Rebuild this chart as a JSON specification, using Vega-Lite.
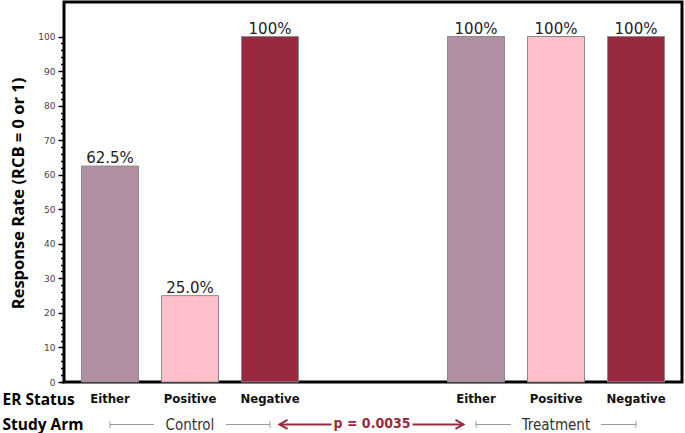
{
  "$schema": "https://vega.github.io/schema/vega-lite/v6.json",
  "autosize": {"type": "none"},
  "width": 618,
  "height": 380,
  "padding": {"left": 64, "top": 2, "right": 3, "bottom": 51},
  "background": "white",
  "config": {
    "view": {"stroke": "black", "strokeWidth": 3},
    "axis": {"grid": false}
  },
  "data": {
    "values": [
      {"arm": "Control", "er": "Either", "rate": 62.5, "label": "62.5%"},
      {"arm": "Control", "er": "Positive", "rate": 25.0, "label": "25.0%"},
      {"arm": "Control", "er": "Negative", "rate": 100, "label": "100%"},
      {"arm": "Treatment", "er": "Either", "rate": 100, "label": "100%"},
      {"arm": "Treatment", "er": "Positive", "rate": 100, "label": "100%"},
      {"arm": "Treatment", "er": "Negative", "rate": 100, "label": "100%"}
    ]
  },
  "resolve": {"axis": {"x": "independent", "y": "independent"}},
  "layer": [
    {
      "mark": {"type": "bar", "stroke": "#8a8a8a", "strokeWidth": 1},
      "encoding": {
        "x": {
          "field": "arm", "type": "nominal",
          "scale": {"domain": ["Control", "Treatment"], "paddingInner": 0.4071, "paddingOuter": 0.0478},
          "axis": {
            "orient": "bottom", "title": "Study Arm", "titleX": -62, "titleY": 42, "titleAlign": "left",
            "titleBaseline": "middle", "titleAngle": 0, "titleFont": "Open Sans", "titleFontWeight": "bold", "titleFontSize": 15.5, "titleColor": "black",
            "labelFont": "DejaVu Sans Condensed", "labelFontSize": 15, "labelColor": "#333", "labelAngle": 0,
            "labelBaseline": "middle", "labelPadding": 42, "ticks": false, "tickSize": 0, "domain": false
          }
        },
        "xOffset": {
          "field": "er", "type": "nominal",
          "scale": {"domain": ["Either", "Positive", "Negative"], "paddingInner": 0.2875, "paddingOuter": 0}
        },
        "y": {
          "field": "rate", "type": "quantitative",
          "scale": {"domain": [0, 110], "nice": false},
          "axis": {
            "orient": "left",
            "title": "Response Rate (RCB = 0 or 1)", "titleX": -46, "titleY": 191, "titleAngle": -90,
            "titleBaseline": "middle", "titleAlign": "center", "titleFont": "Open Sans", "titleFontWeight": "bold",
            "titleFontSize": 16.5, "titleColor": "black",
            "values": [0, 10, 20, 30, 40, 50, 60, 70, 80, 90, 100],
            "labelOverlap": false, "zindex": 2,
            "ticks": true, "tickSize": 6, "tickColor": "#000000", "tickWidth": 1.5, "tickOpacity": 1, "tickCap": "butt", "domain": false,
            "labelFont": "DejaVu Sans", "labelFontSize": 9, "labelColor": "#444", "labelPadding": 3
          }
        },
        "color": {
          "field": "er", "type": "nominal",
          "scale": {"domain": ["Either", "Positive", "Negative"], "range": ["#b08fa2", "#ffc0cb", "#99293e"]},
          "legend": null
        }
      }
    },
    {
      "mark": {"type": "text", "font": "DejaVu Sans", "fontSize": 15, "baseline": "alphabetic", "dy": -3, "color": "#222"},
      "encoding": {
        "x": {"field": "arm", "type": "nominal", "axis": null},
        "xOffset": {"field": "er", "type": "nominal"},
        "y": {
          "field": "rate", "type": "quantitative",
          "axis": {
            "orient": "left", "title": null, "labels": false, "domain": false, "zindex": 2,
            "values": [0,2,4,6,8,12,14,16,18,22,24,26,28,32,34,36,38,42,44,46,48,52,54,56,58,62,64,66,68,72,74,76,78,82,84,86,88,92,94,96,98],
            "ticks": true, "tickSize": 3.5, "tickColor": "#000000", "tickWidth": 1.5, "tickOpacity": 1
          }
        },
        "text": {"field": "label"}
      }
    },
    {
      "mark": {"type": "text", "font": "DejaVu Sans Condensed", "fontWeight": "bold", "fontSize": 13, "baseline": "middle", "color": "#111"},
      "encoding": {
        "x": {
          "field": "arm", "type": "nominal",
          "axis": {
            "orient": "bottom", "title": "ER Status", "titleX": -62, "titleY": 17, "titleAlign": "left",
            "titleBaseline": "middle", "titleAngle": 0, "titleFont": "Open Sans", "titleFontWeight": "bold", "titleFontSize": 15.5, "titleColor": "black",
            "labels": false, "ticks": false, "domain": false
          }
        },
        "xOffset": {"field": "er", "type": "nominal"},
        "y": {"datum": -4.9, "axis": null},
        "text": {"field": "er"}
      }
    },
    {
      "data": {"values": [
        {"arm": "Control", "er": "Either"}, {"arm": "Control", "er": "Negative"},
        {"arm": "Treatment", "er": "Either"}, {"arm": "Treatment", "er": "Negative"}
      ]},
      "mark": {"type": "line", "color": "#9a9a9a", "strokeWidth": 1},
      "encoding": {
        "x": {"field": "arm", "type": "nominal", "axis": null},
        "xOffset": {"field": "er", "type": "nominal"},
        "y": {"datum": -12.3, "axis": null},
        "detail": {"field": "arm"},
        "order": {"value": null},
        "strokeDash": {
          "field": "arm", "type": "nominal",
          "scale": {"domain": ["Control", "Treatment"], "range": [[44, 72, 44, 50], [35, 90, 35, 50]]},
          "legend": null
        }
      }
    },
    {
      "data": {"values": [
        {"arm": "Control", "er": "Either"}, {"arm": "Control", "er": "Negative"},
        {"arm": "Treatment", "er": "Either"}, {"arm": "Treatment", "er": "Negative"}
      ]},
      "mark": {"type": "rule", "color": "#9a9a9a", "strokeWidth": 1},
      "encoding": {
        "x": {"field": "arm", "type": "nominal", "axis": null},
        "xOffset": {"field": "er", "type": "nominal"},
        "y": {"datum": -11.3, "axis": null},
        "y2": {"datum": -13.3}
      }
    },
    {
      "data": {"values": [
        {"arm": "Control", "er": "Negative"}, {"arm": "Treatment", "er": "Either"}
      ]},
      "mark": {"type": "line", "color": "#9b2a3f", "strokeWidth": 2, "strokeDash": [0, 9.5, 52, 81, 51, 30]},
      "encoding": {
        "x": {"field": "arm", "type": "nominal", "axis": null},
        "xOffset": {"field": "er", "type": "nominal"},
        "y": {"datum": -12.3, "axis": null},
        "order": {"value": null}
      }
    },
    {
      "data": {"values": [
        {"arm": "Control", "er": "Negative"}, {"arm": "Treatment", "er": "Either"}
      ]},
      "mark": {"type": "point", "filled": false, "color": "#9b2a3f", "strokeWidth": 2, "size": 4, "opacity": 1},
      "encoding": {
        "x": {"field": "arm", "type": "nominal", "axis": null},
        "xOffset": {"field": "er", "type": "nominal"},
        "y": {"datum": -12.3, "axis": null},
        "shape": {
          "field": "arm", "type": "nominal",
          "scale": {"domain": ["Control", "Treatment"], "range": ["M 17.5 -4.5 L 9.5 0 L 17.5 4.5", "M -20.5 -4.5 L -12.5 0 L -20.5 4.5"]},
          "legend": null
        }
      }
    },
    {
      "data": {"values": [{"arm": "Control", "er": "Negative", "label": "p = 0.0035"}]},
      "mark": {"type": "text", "font": "DejaVu Sans Condensed", "fontWeight": "bold", "fontSize": 14, "baseline": "middle", "color": "#9b2a3f", "dx": 102},
      "encoding": {
        "x": {"field": "arm", "type": "nominal", "axis": null},
        "xOffset": {"field": "er", "type": "nominal"},
        "y": {"datum": -12.3, "axis": null},
        "text": {"field": "label"}
      }
    }
  ]
}
